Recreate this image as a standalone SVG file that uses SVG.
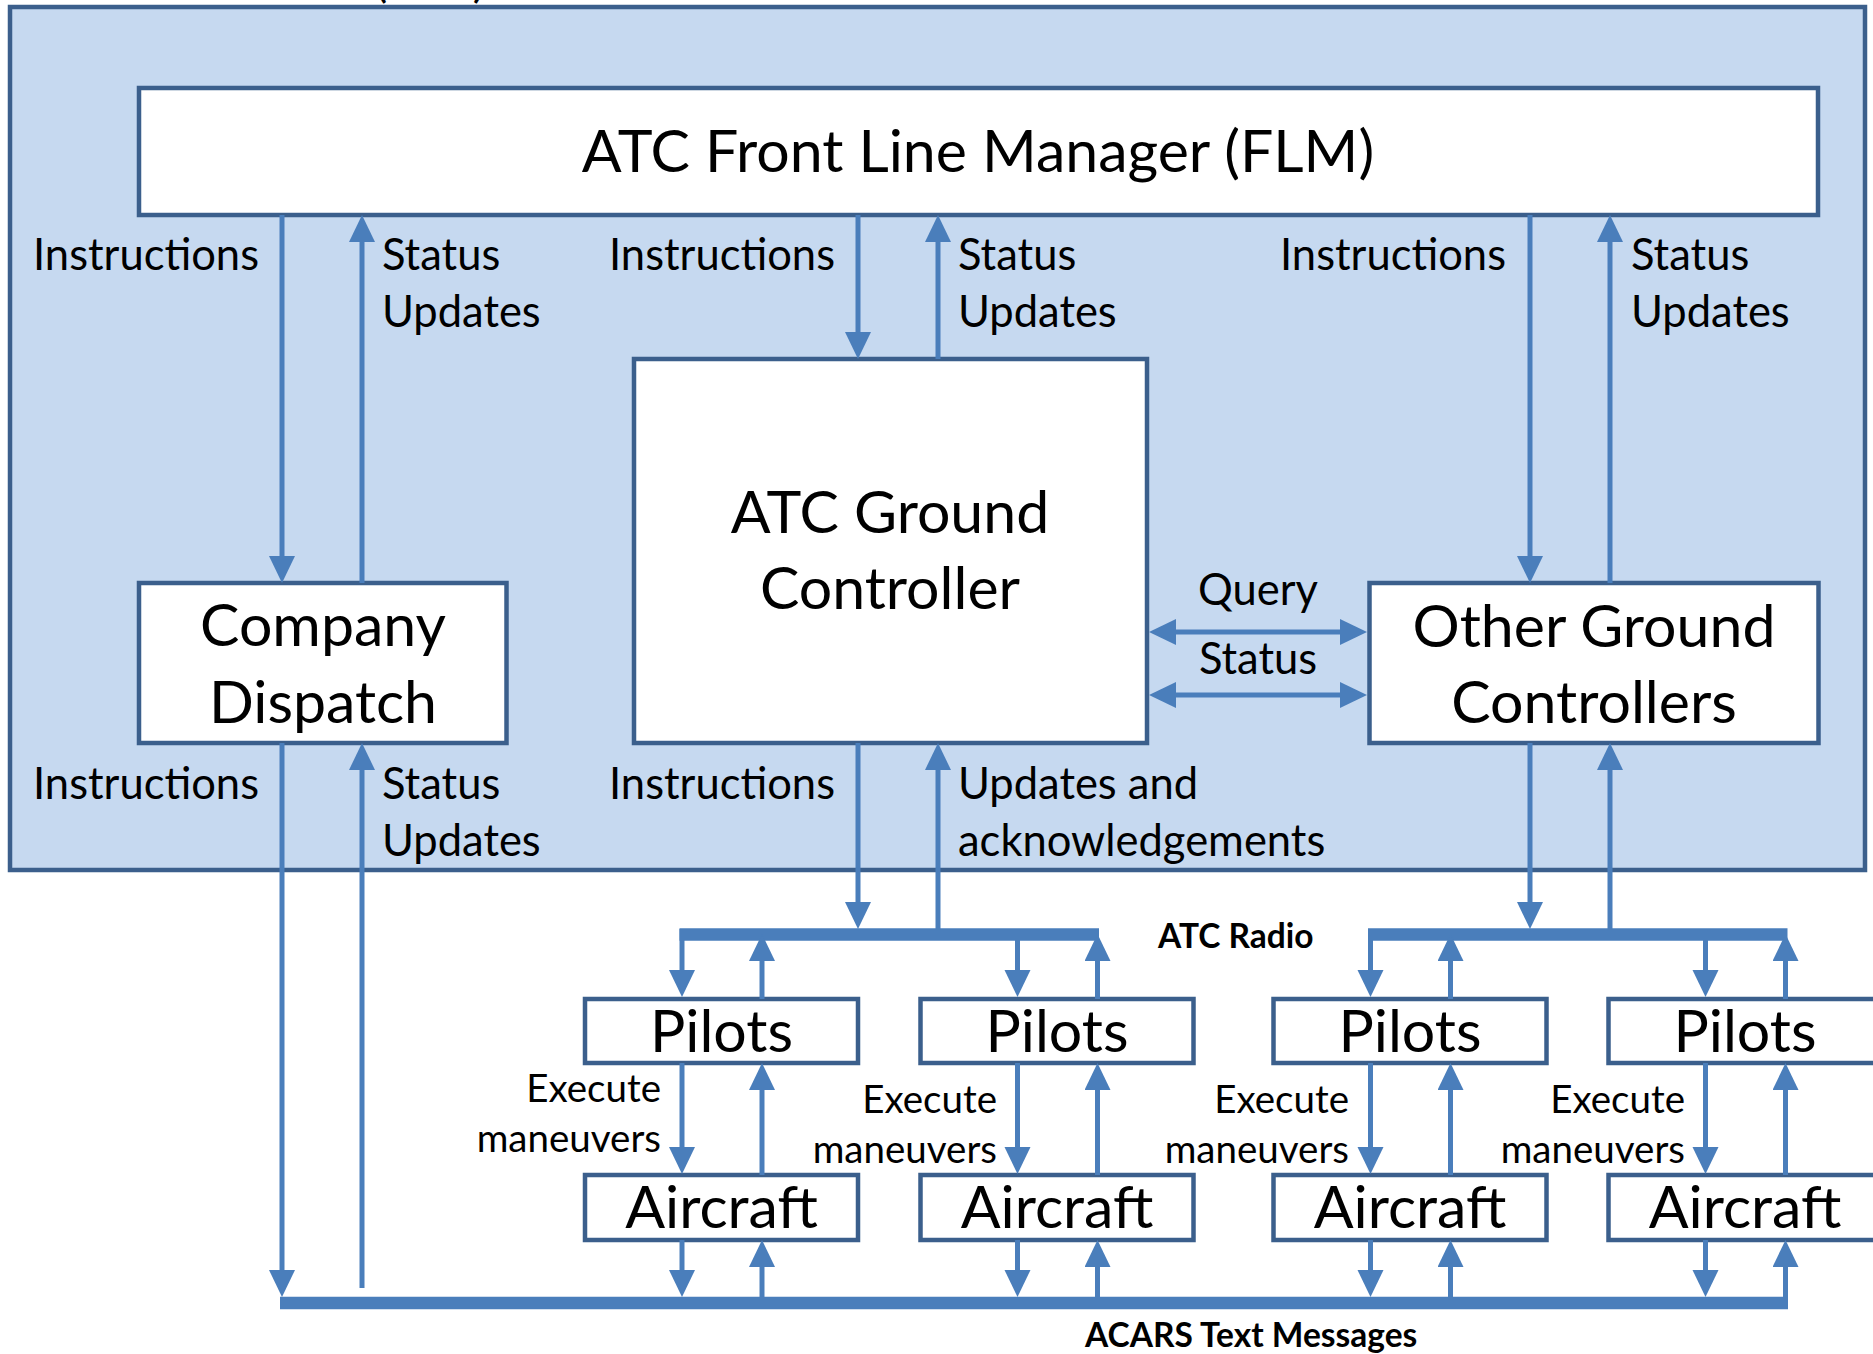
<svg xmlns="http://www.w3.org/2000/svg" width="1873" height="1354" viewBox="0 0 1873 1354">
<style>
.frame{fill:#c6d9f0;stroke:#3b5f8c;stroke-width:4.5}
.box{fill:#ffffff;stroke:#3b5f8c;stroke-width:4.5}
.c{fill:none;stroke:#4a7ebb;stroke-width:5}
.bus{fill:none;stroke:#4a7ebb;stroke-width:12.5}
text{font-family:Lato,"Open Sans","Liberation Sans",sans-serif;fill:#000}
.big{font-size:59px;text-anchor:middle}
.lbl{font-size:43.5px}
.sm{font-size:38.5px;text-anchor:end}
.bold{font-size:33.5px;font-weight:bold}
.mid{text-anchor:middle}
</style>
<defs>
<marker id="ah" markerUnits="userSpaceOnUse" markerWidth="28" markerHeight="28" refX="17" refY="13" orient="auto-start-reverse" viewBox="0 0 28 28">
<path d="M0,0 L27,13 L0,26 z" fill="#4a7ebb"/>
</marker>
</defs>
<g id="atc-facility">
<rect class="frame" x="10" y="7" width="1855" height="863"/>
<text class="mid" x="430" y="-3" font-size="46">(FAA)</text>
</g>
<g id="flm">
<rect class="box" x="139" y="88" width="1679" height="127"/>
<text class="big" x="978" y="172">ATC Front Line Manager (FLM)</text>
</g>
<g id="company-dispatch">
<rect class="box" x="139" y="583" width="367.5" height="160"/>
<text class="big" x="323" y="646">Company</text>
<text class="big" x="323" y="723">Dispatch</text>
</g>
<g id="atc-ground-controller">
<rect class="box" x="634" y="359" width="513" height="384"/>
<text class="big" x="890" y="533">ATC Ground</text>
<text class="big" x="890" y="609">Controller</text>
</g>
<g id="other-ground-controllers">
<rect class="box" x="1369.5" y="583" width="449" height="160"/>
<text class="big" x="1594" y="647">Other Ground</text>
<text class="big" x="1594" y="723">Controllers</text>
</g>
<g id="pilots-1"><rect class="box" x="585" y="999" width="273" height="64"/><text class="big" x="721.5" y="1052">Pilots</text></g>
<g id="pilots-2"><rect class="box" x="920.5" y="999" width="273" height="64"/><text class="big" x="1057" y="1052">Pilots</text></g>
<g id="pilots-3"><rect class="box" x="1273.5" y="999" width="273" height="64"/><text class="big" x="1410" y="1052">Pilots</text></g>
<g id="pilots-4"><rect class="box" x="1608.5" y="999" width="273" height="64"/><text class="big" x="1745" y="1052">Pilots</text></g>
<g id="aircraft-1"><rect class="box" x="585" y="1175" width="273" height="65"/><text class="big" x="721.5" y="1228">Aircraft</text></g>
<g id="aircraft-2"><rect class="box" x="920.5" y="1175" width="273" height="65"/><text class="big" x="1057" y="1228">Aircraft</text></g>
<g id="aircraft-3"><rect class="box" x="1273.5" y="1175" width="273" height="65"/><text class="big" x="1410" y="1228">Aircraft</text></g>
<g id="aircraft-4"><rect class="box" x="1608.5" y="1175" width="273" height="65"/><text class="big" x="1745" y="1228">Aircraft</text></g>
<g id="connectors">
<line class="bus" x1="679.5" y1="934.5" x2="1099" y2="934.5"/>
<line class="bus" x1="1368" y1="934.5" x2="1787.5" y2="934.5"/>
<line class="bus" x1="280" y1="1303" x2="1788" y2="1303"/>
<g marker-end="url(#ah)">
<line class="c" x1="282" y1="215" x2="282" y2="573"/>
<line class="c" x1="362" y1="583" x2="362" y2="225"/>
<line class="c" x1="858" y1="215" x2="858" y2="349"/>
<line class="c" x1="938" y1="359" x2="938" y2="225"/>
<line class="c" x1="1530" y1="215" x2="1530" y2="573"/>
<line class="c" x1="1610" y1="583" x2="1610" y2="225"/>
<line class="c" x1="1159" y1="632" x2="1357" y2="632" marker-start="url(#ah)"/>
<line class="c" x1="1159" y1="695" x2="1357" y2="695" marker-start="url(#ah)"/>
<line class="c" x1="282" y1="743" x2="282" y2="1287"/>
<line class="c" x1="362" y1="1288" x2="362" y2="753"/>
<line class="c" x1="858" y1="743" x2="858" y2="919"/>
<line class="c" x1="938" y1="929" x2="938" y2="753"/>
<line class="c" x1="1530" y1="743" x2="1530" y2="919"/>
<line class="c" x1="1610" y1="929" x2="1610" y2="753"/>
<line class="c" x1="682" y1="929" x2="682" y2="987"/>
<line class="c" x1="762" y1="999" x2="762" y2="944"/>
<line class="c" x1="1017.5" y1="935" x2="1017.5" y2="987"/>
<line class="c" x1="1097.5" y1="999" x2="1097.5" y2="944"/>
<line class="c" x1="1370.5" y1="929" x2="1370.5" y2="987"/>
<line class="c" x1="1450.5" y1="999" x2="1450.5" y2="944"/>
<line class="c" x1="1705.5" y1="935" x2="1705.5" y2="987"/>
<line class="c" x1="1785.5" y1="999" x2="1785.5" y2="944"/>
<line class="c" x1="682" y1="1063" x2="682" y2="1164"/>
<line class="c" x1="762" y1="1175" x2="762" y2="1073"/>
<line class="c" x1="1017.5" y1="1063" x2="1017.5" y2="1164"/>
<line class="c" x1="1097.5" y1="1175" x2="1097.5" y2="1073"/>
<line class="c" x1="1370.5" y1="1063" x2="1370.5" y2="1164"/>
<line class="c" x1="1450.5" y1="1175" x2="1450.5" y2="1073"/>
<line class="c" x1="1705.5" y1="1063" x2="1705.5" y2="1164"/>
<line class="c" x1="1785.5" y1="1175" x2="1785.5" y2="1073"/>
<line class="c" x1="682" y1="1240" x2="682" y2="1287"/>
<line class="c" x1="762" y1="1297" x2="762" y2="1250"/>
<line class="c" x1="1017.5" y1="1240" x2="1017.5" y2="1287"/>
<line class="c" x1="1097.5" y1="1297" x2="1097.5" y2="1250"/>
<line class="c" x1="1370.5" y1="1240" x2="1370.5" y2="1287"/>
<line class="c" x1="1450.5" y1="1297" x2="1450.5" y2="1250"/>
<line class="c" x1="1705.5" y1="1240" x2="1705.5" y2="1287"/>
<line class="c" x1="1785.5" y1="1297" x2="1785.5" y2="1250"/>
</g>
</g>
<g id="labels">
<text class="lbl" x="33" y="270">Instructions</text>
<text class="lbl" x="382" y="270">Status</text>
<text class="lbl" x="382" y="327">Updates</text>
<text class="lbl" x="609" y="270">Instructions</text>
<text class="lbl" x="958" y="270">Status</text>
<text class="lbl" x="958" y="327">Updates</text>
<text class="lbl" x="1280" y="270">Instructions</text>
<text class="lbl" x="1631" y="270">Status</text>
<text class="lbl" x="1631" y="327">Updates</text>
<text class="lbl mid" x="1258" y="605">Query</text>
<text class="lbl mid" x="1258" y="674">Status</text>
<text class="lbl" x="33" y="799">Instructions</text>
<text class="lbl" x="382" y="799">Status</text>
<text class="lbl" x="382" y="856">Updates</text>
<text class="lbl" x="609" y="799">Instructions</text>
<text class="lbl" x="958" y="799">Updates and</text>
<text class="lbl" x="958" y="856">acknowledgements</text>
<text class="bold" x="1158" y="948">ATC Radio</text>
<text class="bold" x="1085" y="1347">ACARS Text Messages</text>
<text class="sm" x="661" y="1102">Execute</text>
<text class="sm" x="661" y="1152">maneuvers</text>
<text class="sm" x="997" y="1113">Execute</text>
<text class="sm" x="997" y="1163">maneuvers</text>
<text class="sm" x="1349" y="1113">Execute</text>
<text class="sm" x="1349" y="1163">maneuvers</text>
<text class="sm" x="1685" y="1113">Execute</text>
<text class="sm" x="1685" y="1163">maneuvers</text>
</g>
</svg>
